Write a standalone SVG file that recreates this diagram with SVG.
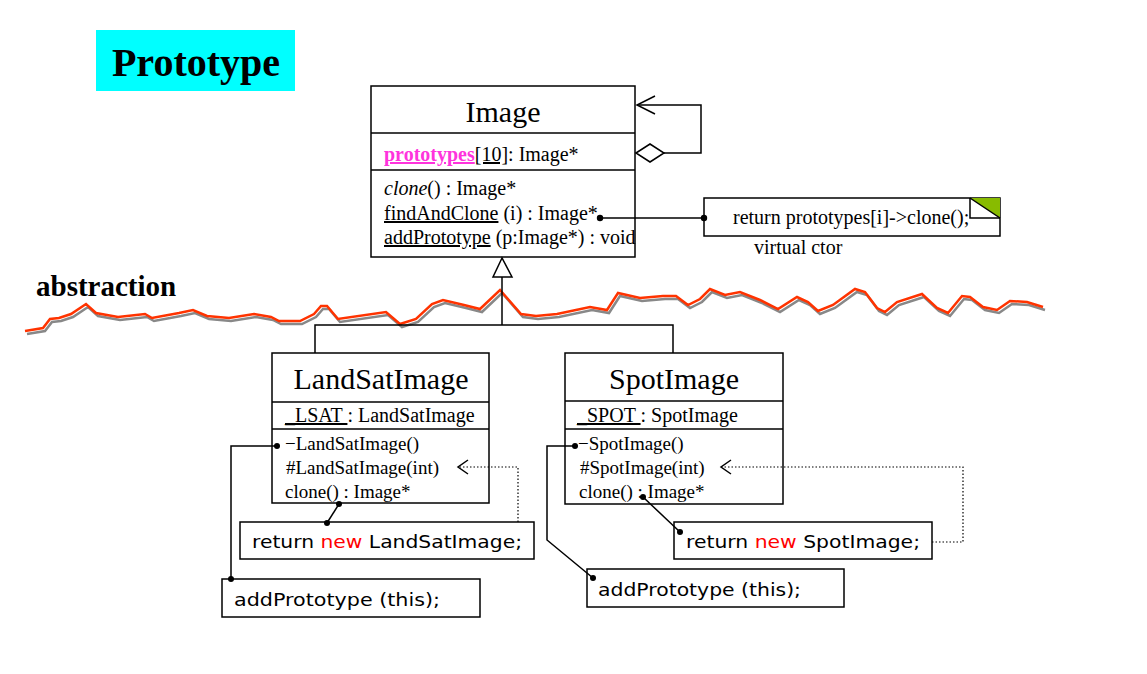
<svg xmlns="http://www.w3.org/2000/svg" width="1147" height="674" viewBox="0 0 1147 674">
<defs>
<style>
.box{fill:#fff;stroke:#000;stroke-width:1.5}
.ln{fill:none;stroke:#000;stroke-width:1.5}
.dot{fill:none;stroke:#000;stroke-width:1.2;stroke-dasharray:1.5 2}
.s{font-family:"Liberation Serif","Times New Roman",serif;fill:#000}
.c{font-family:"DejaVu Sans","Liberation Sans",sans-serif;fill:#000;font-size:18px}
.t{font-size:30px}
.m{font-size:20px}
.n{font-size:19px}
</style>
</defs>
<rect width="1147" height="674" fill="#fff"/>
<g id="title">
<rect x="96" y="30" width="199" height="61" fill="#00ffff"/>
<text x="196" y="76" text-anchor="middle" class="s" font-size="40" font-weight="bold">Prototype</text>
</g>
<g id="abstraction">
<text x="36" y="296" class="s" font-size="29" font-weight="bold">abstraction</text>
<g transform="translate(2,3)"><polyline fill="none" stroke="#888" stroke-width="2.5" points="25,331 43,328 50,319 59,318 71,314 86,304 96,313 118,317 145,314 152,318 179,313 193,310 207,316 229,318 254,314 271,317 279,321 300,321 314,314 321,306 327,306 338,319 386,312 400,324 416,319 432,304 443,300 464,305 480,309 500,290 521,314 536,316 557,314 590,307 607,310 618,293 640,298 663,296 676,296 688,305 700,299 710,289 725,295 740,292 760,300 778,309 797,297 808,302 818,311 833,305 855,289 865,292 877,308 885,312 897,302 922,294 937,308 948,313 962,296 970,297 983,307 997,310 1010,301 1027,302 1043,307"/></g>
<polyline fill="none" stroke="#ff3300" stroke-width="2.5" points="25,331 43,328 50,319 59,318 71,314 86,304 96,313 118,317 145,314 152,318 179,313 193,310 207,316 229,318 254,314 271,317 279,321 300,321 314,314 321,306 327,306 338,319 386,312 400,324 416,319 432,304 443,300 464,305 480,309 500,290 521,314 536,316 557,314 590,307 607,310 618,293 640,298 663,296 676,296 688,305 700,299 710,289 725,295 740,292 760,300 778,309 797,297 808,302 818,311 833,305 855,289 865,292 877,308 885,312 897,302 922,294 937,308 948,313 962,296 970,297 983,307 997,310 1010,301 1027,302 1043,307"/>
</g>
<g id="image">
<rect class="box" x="371" y="86" width="264" height="171"/>
<line class="ln" x1="371" y1="133" x2="635" y2="133"/>
<line class="ln" x1="371" y1="170" x2="635" y2="170"/>
<text x="503" y="122" text-anchor="middle" class="s t">Image</text>
<text x="384" y="161" class="s m"><tspan fill="#ff33dd" font-weight="bold" text-decoration="underline">prototypes</tspan><tspan text-decoration="underline">[10]</tspan>: Image*</text>
<text x="384" y="195" class="s m"><tspan font-style="italic">clone</tspan>() : Image*</text>
<text x="384" y="220" class="s m"><tspan text-decoration="underline">findAndClone</tspan> (i) : Image*</text>
<text x="384" y="244" class="s m"><tspan text-decoration="underline">addPrototype</tspan> (p:Image*) : void</text>
</g>
<g id="note">
<rect class="box" x="704" y="198" width="296" height="38"/>
<polygon points="970,198 1000,198 1000,218" fill="#88bb00"/>
<polyline class="ln" points="970,198 970,218 1000,218"/>
<line class="ln" x1="970" y1="198" x2="1000" y2="218"/>
<text x="733" y="224" class="s m">return prototypes[i]-&gt;clone();</text>
<text x="754" y="254" class="s m">virtual ctor</text>
</g>
<g id="landsat">
<rect class="box" x="272" y="353" width="217" height="150"/>
<line class="ln" x1="272" y1="402" x2="489" y2="402"/>
<line class="ln" x1="272" y1="429" x2="489" y2="429"/>
<text x="381" y="389" text-anchor="middle" class="s t">LandSatImage</text>
<text x="285" y="422" class="s m"><tspan text-decoration="underline">_LSAT </tspan>: LandSatImage</text>
<text x="285" y="450" class="s n">−LandSatImage()</text>
<text x="286" y="474" class="s n">#LandSatImage(int)</text>
<text x="285" y="498" class="s n">clone() : Image*</text>
</g>
<g id="spot">
<rect class="box" x="565" y="353" width="218" height="151"/>
<line class="ln" x1="565" y1="401" x2="783" y2="401"/>
<line class="ln" x1="565" y1="429" x2="783" y2="429"/>
<text x="674" y="389" text-anchor="middle" class="s t">SpotImage</text>
<text x="577" y="422" class="s m"><tspan text-decoration="underline">_SPOT </tspan>: SpotImage</text>
<text x="578" y="450" class="s n">−SpotImage()</text>
<text x="580" y="474" class="s n">#SpotImage(int)</text>
<text x="579" y="498" class="s n">clone() : Image*</text>
</g>
<g id="ls-return">
<rect class="box" x="240" y="522" width="294" height="37"/>
<text x="252" y="548" class="c" textLength="270" lengthAdjust="spacingAndGlyphs">return <tspan fill="#ff0000">new</tspan> LandSatImage;</text>
</g>
<g id="ls-add">
<rect class="box" x="222" y="579" width="258" height="38"/>
<text x="234" y="606" class="c" textLength="206" lengthAdjust="spacingAndGlyphs">addPrototype (this);</text>
</g>
<g id="sp-return">
<rect class="box" x="674" y="522" width="258" height="37"/>
<text x="686" y="548" class="c" textLength="234" lengthAdjust="spacingAndGlyphs">return <tspan fill="#ff0000">new</tspan> SpotImage;</text>
</g>
<g id="sp-add">
<rect class="box" x="587" y="569" width="257" height="38"/>
<text x="598" y="596" class="c" textLength="203" lengthAdjust="spacingAndGlyphs">addPrototype (this);</text>
</g>
<g id="connectors">
<polyline class="ln" points="664,153 701,153 701,105 637,105"/>
<polyline class="ln" points="655,96 637,105 655,114"/>
<polygon points="636,153 650,144 664,153 650,162" fill="#fff" stroke="#000" stroke-width="1.5"/>
<line class="ln" x1="600" y1="218" x2="704" y2="218"/>
<circle cx="600" cy="218" r="3.2"/><circle cx="704" cy="218" r="3.2"/>
<polyline class="ln" points="502,277 502,325"/>
<polyline class="ln" points="315,353 315,325 673,325 673,353"/>
<polygon points="502,258 493,277 512,277" fill="#fff" stroke="#000" stroke-width="1.5"/>
<polyline class="ln" points="277,446 231,446 231,579"/>
<circle cx="277" cy="446" r="3"/><circle cx="231" cy="579" r="3"/>
<line class="ln" x1="339" y1="504" x2="327" y2="523"/>
<circle cx="339" cy="504" r="3"/><circle cx="327" cy="523" r="3"/>
<polyline class="dot" points="518,522 518,467 459,467"/>
<polyline class="ln" points="468,460 458,467 468,474"/>
<polyline class="ln" points="575,446 547,446 547,540 593,578"/>
<circle cx="575" cy="446" r="3"/><circle cx="593" cy="578" r="3"/>
<line class="ln" x1="643" y1="497" x2="680" y2="532"/>
<circle cx="643" cy="497" r="3"/><circle cx="680" cy="532" r="3"/>
<polyline class="dot" points="932,542 963,542 963,467 722,467"/>
<polyline class="ln" points="731,460 721,467 731,474"/>
</g>
</svg>
